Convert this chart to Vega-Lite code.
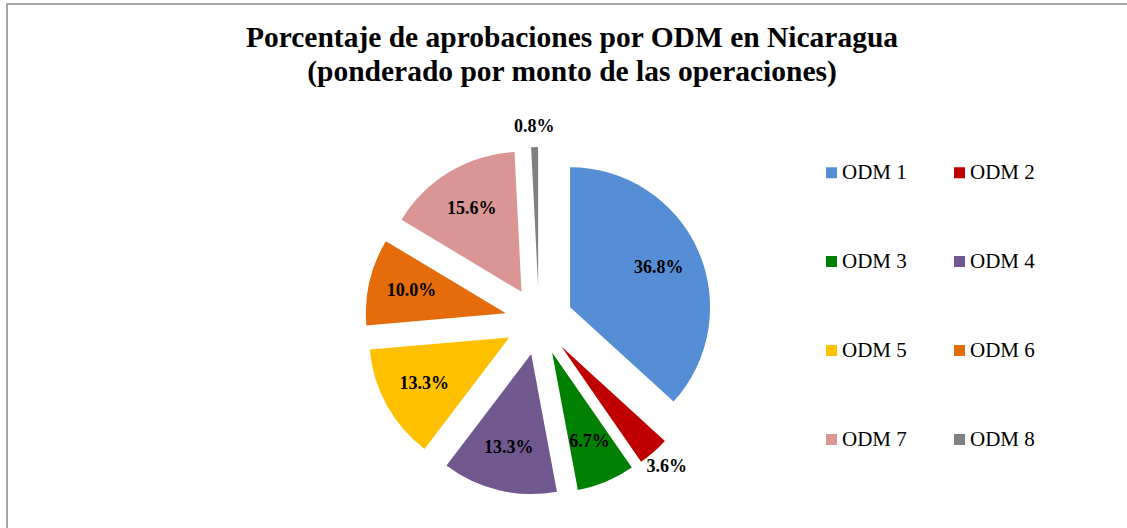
{
  "$schema": "https://vega.github.io/schema/vega-lite/v6.json",
  "width": 1130,
  "height": 534,
  "autosize": {"type": "none"},
  "padding": {"left": 7, "top": 4, "right": -10, "bottom": -10},
  "background": "white",
  "config": {
    "view": {"stroke": "#a6a6a6", "strokeWidth": 2},
    "font": "Liberation Serif"
  },
  "title": {
    "text": ["Porcentaje de aprobaciones por ODM en Nicaragua", "(ponderado por monto de las operaciones)"],
    "font": "Liberation Serif",
    "fontSize": 29.5,
    "fontWeight": "bold",
    "color": "black",
    "anchor": "middle",
    "lineHeight": 34,
    "offset": -83
  },
  "data": {
    "values": [
      {"odm": "ODM 1", "share": 36.8},
      {"odm": "ODM 2", "share": 3.6},
      {"odm": "ODM 3", "share": 6.7},
      {"odm": "ODM 4", "share": 13.3},
      {"odm": "ODM 5", "share": 13.3},
      {"odm": "ODM 6", "share": 10.0},
      {"odm": "ODM 7", "share": 15.6},
      {"odm": "ODM 8", "share": 0.8}
    ]
  },
  "transform": [
    {"stack": "share", "groupby": [], "sort": [{"field": "odm", "order": "ascending"}], "as": ["s0", "s1"]},
    {"joinaggregate": [{"op": "sum", "field": "share", "as": "total"}]},
    {"calculate": "(datum.s0 + datum.s1) / 2", "as": "mid"},
    {"calculate": "datum.mid / datum.total * 2 * PI", "as": "ang"},
    {"calculate": "sin(datum.ang)", "as": "ox"},
    {"calculate": "cos(datum.ang)", "as": "oy"},
    {"calculate": "format(datum.share, '.1f') + '%'", "as": "lbl"}
  ],
  "encoding": {
    "x": {"field": "ox", "type": "quantitative", "stack": null, "axis": null, "scale": {"domain": [-1, 1], "range": [498, 566], "zero": false, "nice": false}},
    "y": {"field": "oy", "type": "quantitative", "stack": null, "axis": null, "scale": {"domain": [-1, 1], "range": [351, 283], "zero": false, "nice": false}}
  },
  "layer": [
    {
      "mark": {"type": "arc", "outerRadius": 140, "stroke": null},
      "encoding": {
        "theta": {"field": "s0", "type": "quantitative", "stack": null, "scale": {"domain": [0, 100.1], "range": [0, 6.283185307179586]}},
        "theta2": {"field": "s1"},
        "color": {
          "field": "odm",
          "type": "nominal",
          "scale": {
            "domain": ["ODM 1", "ODM 2", "ODM 3", "ODM 4", "ODM 5", "ODM 6", "ODM 7", "ODM 8"],
            "range": ["#558ED5", "#C00000", "#008000", "#71588F", "#FFC000", "#E46C0A", "#D99694", "#808080"]
          },
          "legend": {
            "orient": "none",
            "legendX": 814,
            "legendY": 158,
            "direction": "horizontal",
            "columns": 2,
            "title": null,
            "padding": 0,
            "symbolType": "square",
            "symbolSize": 121,
            "symbolStrokeWidth": 0,
            "labelFont": "Liberation Serif",
            "labelFontSize": 21,
            "labelColor": "black",
            "labelOffset": 0,
            "rowPadding": 67,
            "columnPadding": 42
          }
        }
      }
    },
    {
      "transform": [{"filter": "datum.share >= 5"}],
      "mark": {"type": "text", "radius": 97, "font": "Liberation Serif", "fontSize": 18, "fontWeight": "bold", "color": "black", "align": "center", "baseline": "middle"},
      "encoding": {
        "theta": {"field": "mid", "type": "quantitative", "stack": null, "scale": {"domain": [0, 100.1], "range": [0, 6.283185307179586]}},
        "text": {"field": "lbl"}
      }
    },
    {
      "transform": [{"filter": "datum.share < 5"}],
      "mark": {"type": "text", "radius": 160, "font": "Liberation Serif", "fontSize": 18, "fontWeight": "bold", "color": "black", "align": "center", "baseline": "middle"},
      "encoding": {
        "theta": {"field": "mid", "type": "quantitative", "stack": null, "scale": {"domain": [0, 100.1], "range": [0, 6.283185307179586]}},
        "text": {"field": "lbl"}
      }
    }
  ]
}
